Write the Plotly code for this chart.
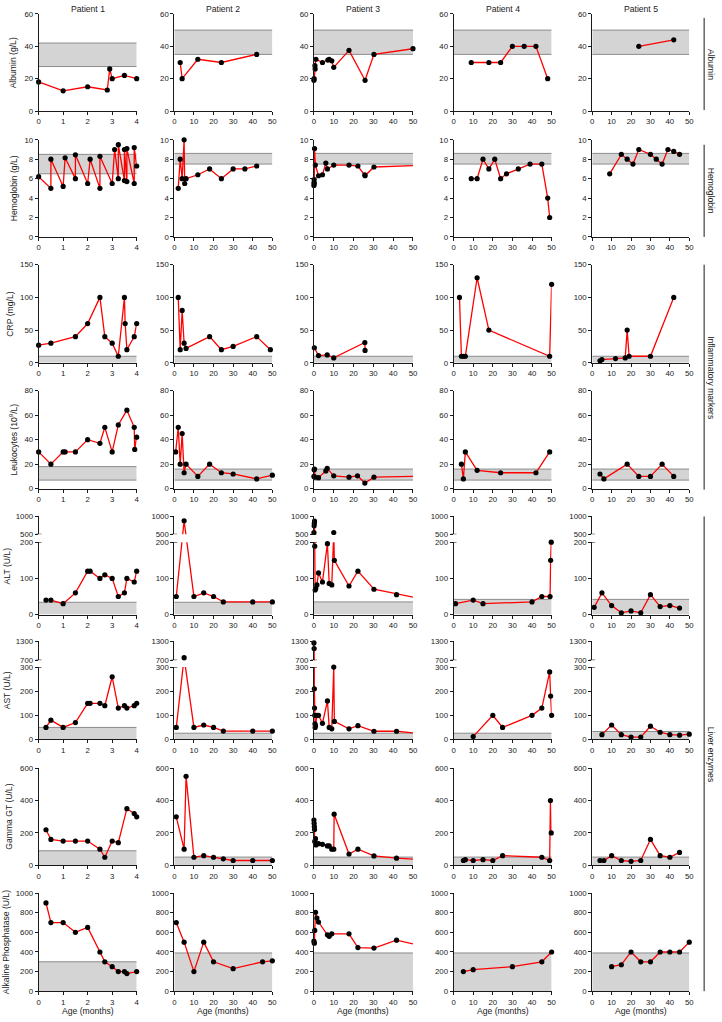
import plotly.graph_objects as go

# ---------------- data ----------------
PATIENTS = ["Patient 1", "Patient 2", "Patient 3", "Patient 4", "Patient 5"]
X_MAX = [4, 50, 50, 50, 50]
X_TICKS = [[0, 1, 2, 3, 4]] + [[0, 10, 20, 30, 40, 50]] * 4

ALB_X = [[0, 1, 2, 2.8, 2.9, 3, 3.5, 4],
         [3, 4, 12, 24, 42],
         [0, 0.1, 0.6, 0.5, 1, 4.3, 7, 7.7, 9, 10, 17.7, 25.8, 30.3, 50],
         [9, 18, 24, 30, 36, 42, 48],
         [24, 42]]
ALB_Y = [[18, 12.5, 15, 13, 26, 20, 22, 20],
         [30, 20, 32, 30, 35],
         [19, 20, 26, 28, 32, 30, 31.5, 32, 31, 27, 37.5, 19, 35, 38.5],
         [30, 30, 30, 40, 40, 40, 20],
         [40, 44]]
ALB_REF = [(27.5, 42), (35, 50), (35, 50), (35, 50), (35, 50)]

HB_X = [[0, 0.5, 0.5, 1, 1.08, 1.5, 1.5, 2, 2.1, 2.5, 2.5, 3, 3.1, 3.25, 3.25, 3.5, 3.5, 3.6, 3.6, 3.9, 3.9, 4],
        [2, 3, 4, 5, 5.3, 6, 12, 18, 24, 30, 36, 42],
        [0, 0.05, 0.1, 0.15, 0.3, 0.7, 2.3, 4.3, 6, 6.8, 10, 17.7, 22.2, 25.7, 25.8, 30.3, 60],
        [9, 12, 15, 18, 21, 24, 27, 33, 39, 45, 48, 49],
        [9, 15, 18, 21, 24, 30, 33, 36, 39, 42, 45]]
HB_Y = [[6.2, 5, 8, 5.2, 8.15, 6, 8.45, 5.5, 8, 5, 8.3, 5.5, 9, 6, 9.5, 5.8, 9, 5.7, 9.1, 5.5, 9.2, 7.3],
        [5, 8, 6, 10, 5.5, 6, 6.4, 7, 6, 7, 7, 7.3],
        [5.3, 5.6, 5.9, 5.5, 9.1, 7.4, 6.3, 6.4, 7.6, 7.0, 7.4, 7.4, 7.3, 6.4, 6.3, 7.2, 7.4],
        [6, 6, 8, 7, 8, 6, 6.5, 7, 7.5, 7.5, 4, 2],
        [6.5, 8.5, 8, 7.5, 9, 8.5, 8, 7.5, 9, 8.8, 8.5]]
HB_REF = [(6.5, 8.5), (7.5, 8.6), (7.5, 8.6), (7.5, 8.6), (7.5, 8.6)]

CRP_X = [[0, 0.5, 1.5, 2, 2.5, 2.7, 3, 3.25, 3.5, 3.53, 3.6, 3.9, 4],
         [2, 3, 4, 5, 6, 18, 24, 30, 42, 49],
         [0.2, 2.3, 6.7, 10, 25.7, 25.8],
         [3, 4, 5, 6, 12, 18, 49, 50],
         [4, 5, 12, 17, 18, 19, 30, 42]]
CRP_Y = [[27, 30, 40, 60, 100, 40, 30, 10, 100, 60, 20, 40, 60],
         [100, 20, 80, 30, 22, 40, 20, 25, 40, 20],
         [23, 11, 12, 7.5, 31, 19],
         [100, 10, 10, 10, 130, 50, 10, 120],
         [3, 5, 6.5, 7.5, 50, 10, 10, 100]]
CRP_REF = [(0, 10)] * 5

LEU_X = [[0, 0.5, 1, 1.08, 1.5, 2, 2.5, 2.7, 3, 3.25, 3.6, 3.9, 3.92, 4],
         [0.7, 2, 3, 4, 5, 6, 12, 18, 24, 30, 42, 50],
         [0, 0.1, 0.3, 0.5, 2.3, 6, 6.7, 10, 17.7, 22, 25.7, 30.3, 60],
         [4, 5, 6, 12, 24, 42, 49],
         [4, 6, 18, 24, 30, 36, 42]]
LEU_Y = [[30, 20, 30, 30, 30, 40, 37, 50, 30, 52, 64, 50, 32, 42],
         [30, 50, 20, 45, 13, 20, 10, 20, 13, 12, 8, 11],
         [10, 15.5, 16, 9.4, 9, 14.5, 16.6, 10.5, 9.4, 10.5, 4.6, 9.4, 10.3],
         [20, 8, 30, 15, 13, 13, 30],
         [12, 8, 20, 10, 10, 20, 10]]
LEU_REF = [(7, 18), (7, 16), (7, 16), (7, 16), (7, 16)]

ALT_X = [[0.3, 0.5, 1, 1.5, 2, 2.1, 2.5, 2.7, 3, 3.25, 3.5, 3.6, 3.9, 4],
         [1, 5, 10, 15, 20, 25, 40, 50],
         [0, 0.1, 0.2, 0.3, 0.4, 0.6, 0.9, 1.5, 2.3, 4.3, 6.8, 7.7, 9, 10, 10.3, 17.7, 22.2, 30.3, 41.7, 60],
         [1, 10, 15, 40, 45, 49.2, 49.5, 49.8],
         [1, 5, 10, 15, 20, 25, 30, 35, 40, 45]]
ALT_Y = [[40, 40, 30, 60, 120, 120, 100, 110, 100, 50, 60, 100, 90, 120],
         [50, 880, 50, 60, 50, 35, 35, 35],
         [550, 740, 810, 870, 189, 68, 72, 82, 115, 90, 196, 86, 82, 550, 150, 79, 120, 70, 55, 37],
         [30, 40, 30, 35, 50, 50, 150, 200],
         [20, 60, 25, 5, 10, 5, 55, 22, 25, 18]]
ALT_REF = [(0, 34), (0, 34), (0, 35), (0, 42), (0, 42)]

AST_X = [[0.3, 0.5, 1, 1.5, 2, 2.1, 2.5, 2.7, 3, 3.25, 3.5, 3.6, 3.9, 4],
         [1, 5, 10, 15, 20, 25, 40, 50],
         [0, 0.1, 0.2, 0.3, 0.4, 0.5, 0.6, 0.8, 1.5, 2.3, 4.3, 6.8, 7.7, 9, 10, 10.3, 17.7, 22.2, 30.3, 41.7, 60],
         [10, 20, 25, 40, 45, 49, 49.5, 50],
         [5, 10, 15, 20, 25, 30, 35, 40, 45, 50]]
AST_Y = [[50, 80, 50, 70, 150, 150, 150, 140, 260, 130, 140, 130, 140, 150],
         [50, 780, 50, 60, 50, 35, 35, 35],
         [1250, 1070, 210, 130, 100, 65, 50, 57, 100, 100, 67, 160, 50, 44, 300, 75, 44, 57, 34, 34, 19],
         [12, 100, 50, 100, 130, 280, 180, 100],
         [20, 60, 20, 10, 10, 55, 30, 20, 18, 22]]
AST_REF = [(0, 50), (0, 26), (0, 26), (0, 26), (0, 33)]

GGT_X = [[0.3, 0.5, 1, 1.5, 2, 2.5, 2.7, 3, 3.25, 3.6, 3.9, 4],
         [1, 5, 6, 10, 15, 20, 25, 30, 40, 50],
         [0, 0.1, 0.2, 0.3, 0.4, 0.8, 1, 2.3, 4.3, 6.8, 7.7, 9, 10, 10.2, 17.7, 22.2, 30.3, 41.7, 60],
         [5, 6, 10, 15, 20, 25, 45, 49, 49.4, 49.8],
         [4, 6, 10, 15, 20, 25, 30, 35, 40, 45]]
GGT_Y = [[220, 160, 150, 150, 150, 100, 50, 150, 140, 350, 320, 300],
         [300, 100, 550, 50, 60, 50, 40, 30, 30, 30],
         [280, 260, 240, 222, 148, 165, 126, 134, 130, 120, 120, 100, 100, 316, 70, 100, 58, 44, 31],
         [30, 35, 30, 35, 30, 60, 50, 30, 400, 200],
         [30, 30, 60, 30, 25, 30, 160, 60, 50, 80]]
GGT_REF = [(0, 90), (0, 51), (0, 51), (0, 51), (0, 51)]

ALP_X = [[0.3, 0.5, 1, 1.5, 2, 2.5, 2.7, 3, 3.25, 3.5, 3.6, 4],
         [1, 5, 10, 15, 20, 30, 45, 50],
         [0, 0.2, 0.4, 0.8, 1.5, 2.3, 6.8, 7.7, 9, 17.7, 22.2, 30.3, 41.7, 60],
         [5, 10, 30, 45, 50],
         [10, 15, 20, 25, 30, 35, 40, 45, 50]]
ALP_Y = [[900, 700, 700, 600, 650, 400, 300, 250, 200, 200, 180, 200],
         [700, 500, 200, 500, 300, 230, 300, 310],
         [510, 490, 620, 805, 745, 705, 575, 560, 585, 585, 445, 440, 520, 438],
         [200, 220, 250, 300, 400],
         [250, 270, 400, 300, 300, 400, 400, 400, 500]]
ALP_REF = [(0, 300), (0, 390), (0, 390), (0, 390), (0, 390)]

GROUPS = [("Albumin", 14, 107), ("Hemoglobin", 142, 235),
          ("Inflammatory markers", 263, 490), ("Liver enzymes", 517, 996)]

# ---------------- layout geometry ----------------
W, H = 722, 1022
FONT = "Liberation Sans, Arial, Helvetica, sans-serif"
RED = "#ff0000"
INK = "#1a1a1a"
BAND = "#d4d4d4"
BAND_EDGE = "#8c8c8c"
TICK_SIZE = 7.8
TITLE_SIZE = 8.6

COL_PX = [(37, 136), (174, 273), (315, 415), (456, 555), (596, 694)]

ROWS = [
    dict(title="Albumin (g/L)", X=ALB_X, Y=ALB_Y, REF=ALB_REF, rng=[0, 60], ticks=[0, 20, 40, 60], px=(10, 108), tx=12),
    dict(title="Hemoglobin (g/L)", X=HB_X, Y=HB_Y, REF=HB_REF, rng=[0, 10], ticks=[0, 2, 4, 6, 8, 10], px=(137, 235), tx=12),
    dict(title="CRP (mg/L)", X=CRP_X, Y=CRP_Y, REF=CRP_REF, rng=[0, 150], ticks=[0, 50, 100, 150], px=(263, 362), tx=8),
    dict(title="Leukocytes (10<sup>9</sup>/L)", X=LEU_X, Y=LEU_Y, REF=LEU_REF, rng=[0, 80], ticks=[0, 20, 40, 60, 80], px=(390, 489), tx=12),
    dict(title="ALT (U/L)", X=ALT_X, Y=ALT_Y, REF=ALT_REF, rng=[0, 200], ticks=[0, 100, 200], px=(543, 616), tx=5,
         up_rng=[500, 1000], up_ticks=[500, 1000], up_px=(517, 535)),
    dict(title="AST (U/L)", X=AST_X, Y=AST_Y, REF=AST_REF, rng=[0, 300], ticks=[0, 100, 200, 300], px=(669, 742), tx=5,
         up_rng=[700, 1300], up_ticks=[700, 1300], up_px=(643, 662)),
    dict(title="Gamma GT (U/L)", X=GGT_X, Y=GGT_Y, REF=GGT_REF, rng=[0, 600], ticks=[0, 200, 400, 600], px=(771, 869), tx=7),
    dict(title="Alkaline Phosphatase (U/L)", X=ALP_X, Y=ALP_Y, REF=ALP_REF, rng=[0, 1000], ticks=[0, 200, 400, 600, 800, 1000], px=(897, 996), tx=4),
]


def fx(p):
    return p / W


def fy(p):
    return 1 - p / H


axes = {}
traces = []
shapes = []
annotations = []
counter = [0]

axis_common = dict(showline=True, linecolor=INK, linewidth=1, ticks="outside", ticklen=3,
                   tickwidth=1, tickcolor=INK, showgrid=False, zeroline=False,
                   tickfont=dict(family=FONT, size=TICK_SIZE, color=INK), fixedrange=True)


def new_axes(xdom, ydom, xrange, xticks, yrange, yticks, show_x):
    counter[0] += 1
    k = counter[0]
    s = "" if k == 1 else str(k)
    axes["xaxis" + s] = dict(axis_common, domain=xdom, range=xrange, anchor="y" + s,
                             tickmode="array", tickvals=xticks, visible=show_x)
    axes["yaxis" + s] = dict(axis_common, domain=ydom, range=yrange, anchor="x" + s,
                             tickmode="array", tickvals=yticks)
    return "x" + s, "y" + s


def add_lines(xa, ya, xs, ys):
    traces.append(go.Scatter(x=xs, y=ys, xaxis=xa, yaxis=ya, mode="lines",
                             line=dict(color=RED, width=1.3), hoverinfo="skip"))


def add_markers(xa, ya, xs, ys, xmax, ylo, yhi):
    keep = [(a, b) for a, b in zip(xs, ys) if a <= xmax + 1e-9 and ylo - 1e-9 <= b <= yhi + 1e-9]
    traces.append(go.Scatter(x=[a for a, _ in keep], y=[b for _, b in keep], xaxis=xa, yaxis=ya,
                             mode="markers", cliponaxis=False,
                             marker=dict(color="black", size=5.2), hoverinfo="x+y"))


def add_band(xa, ya, xmax, lo, hi):
    shapes.append(dict(type="rect", xref=xa, yref=ya, x0=0, x1=xmax, y0=lo, y1=hi,
                       fillcolor=BAND, line=dict(width=0), layer="below"))
    shapes.append(dict(type="line", xref=xa, yref=ya, x0=0, x1=xmax, y0=hi, y1=hi,
                       line=dict(color=BAND_EDGE, width=1), layer="below"))
    if lo > 0:
        shapes.append(dict(type="line", xref=xa, yref=ya, x0=0, x1=xmax, y0=lo, y1=lo,
                           line=dict(color=BAND_EDGE, width=1), layer="below"))


def broken_px(v, row):
    """Continuous display position (pixels) of a value on a broken axis."""
    l0, l1 = row["rng"]
    pt, pb = row["px"]
    u0, u1 = row["up_rng"]
    ut, ub = row["up_px"]
    if v <= l1:
        return pb - (v - l0) * (pb - pt) / (l1 - l0)
    if v >= u0:
        return ub - (v - u0) * (ub - ut) / (u1 - u0)
    return pt - (v - l1) * (pt - ub) / (u0 - l1)


for r, row in enumerate(ROWS):
    for c in range(5):
        xdom = [fx(COL_PX[c][0]), fx(COL_PX[c][1])]
        xmax = X_MAX[c]
        ydom = [fy(row["px"][1]), fy(row["px"][0])]
        xs, ys = row["X"][c], row["Y"][c]
        xa, ya = new_axes(xdom, ydom, [0, xmax], X_TICKS[c], row["rng"], row["ticks"], True)
        lo, hi = row["REF"][c]
        add_band(xa, ya, xmax, lo, hi)
        if "up_rng" in row:
            l0, l1 = row["rng"]
            pt, pb = row["px"]
            u0, u1 = row["up_rng"]
            ut, ub = row["up_px"]
            pos = [broken_px(v, row) for v in ys]
            low_virtual = [l0 + (pb - p) * (l1 - l0) / (pb - pt) for p in pos]
            up_virtual = [u0 + (ub - p) * (u1 - u0) / (ub - ut) for p in pos]
            add_lines(xa, ya, xs, low_virtual)
            add_markers(xa, ya, xs, ys, xmax, l0, l1)
            shapes.append(dict(type="line", xref=xa + " domain", yref=ya, x0=-0.03, x1=0.03,
                               y0=l1, y1=l1, line=dict(color=INK, width=1)))
            udom = [fy(ub), fy(ut)]
            ux, uy = new_axes(xdom, udom, [0, xmax], X_TICKS[c], row["up_rng"], row["up_ticks"], False)
            add_lines(ux, uy, xs, up_virtual)
            add_markers(ux, uy, xs, ys, xmax, u0, u1)
            shapes.append(dict(type="line", xref=ux + " domain", yref=uy, x0=-0.03, x1=0.03,
                               y0=u0, y1=u0, line=dict(color=INK, width=1)))
        else:
            add_lines(xa, ya, xs, ys)
            add_markers(xa, ya, xs, ys, xmax, row["rng"][0], row["rng"][1])
    # y title (first column)
    top = row.get("up_px", row["px"])[0]
    bottom = row["px"][1]
    annotations.append(dict(text=row["title"], x=fx(row["tx"]), y=fy((top + bottom) / 2),
                            xref="paper", yref="paper", textangle=-90, showarrow=False,
                            xanchor="center", yanchor="middle",
                            font=dict(family=FONT, size=TITLE_SIZE, color=INK)))

for c in range(5):
    cx = fx((COL_PX[c][0] + COL_PX[c][1]) / 2)
    annotations.append(dict(text=PATIENTS[c], x=cx, y=fy(5), xref="paper", yref="paper",
                            showarrow=False, xanchor="center", yanchor="middle",
                            font=dict(family=FONT, size=TITLE_SIZE, color=INK)))
    annotations.append(dict(text="Age (months)", x=cx, y=fy(1016), xref="paper", yref="paper",
                            showarrow=False, xanchor="center", yanchor="middle",
                            font=dict(family=FONT, size=TITLE_SIZE, color=INK)))

for name, t, b in GROUPS:
    shapes.append(dict(type="line", xref="paper", yref="paper", x0=fx(709), x1=fx(709),
                       y0=fy(t), y1=fy(b), line=dict(color=INK, width=1)))
    annotations.append(dict(text=name, x=fx(716), y=fy((t + b) / 2), xref="paper", yref="paper",
                            textangle=90, showarrow=False, xanchor="center", yanchor="middle",
                            font=dict(family=FONT, size=TITLE_SIZE, color=INK)))

fig = go.Figure(data=traces)
fig.update_layout(width=W, height=H, margin=dict(l=0, r=0, t=0, b=0), showlegend=False,
                  plot_bgcolor="white", paper_bgcolor="white",
                  font=dict(family=FONT, size=TITLE_SIZE, color=INK),
                  shapes=shapes, annotations=annotations, **axes)
fig.write_html("out.html", config={"displayModeBar": False},
               post_script="document.body.style.margin='0px';document.body.style.overflow='hidden';")
